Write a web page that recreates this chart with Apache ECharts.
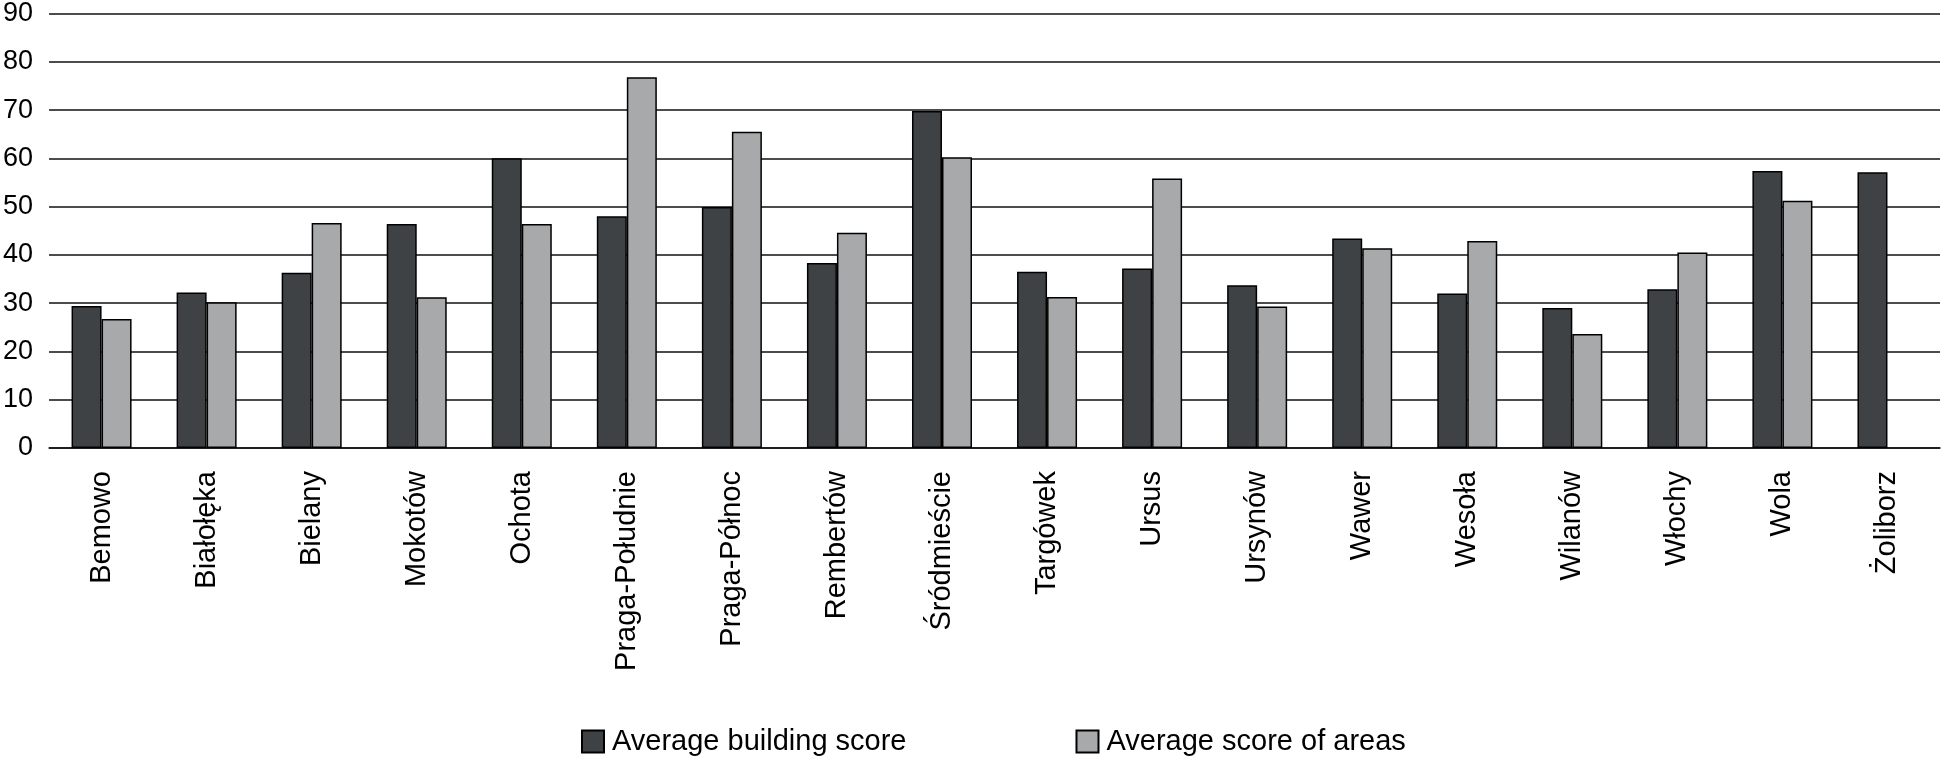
<!DOCTYPE html>
<html>
<head>
<meta charset="utf-8">
<script src="https://cdn.jsdelivr.net/npm/echarts@6/dist/echarts.min.js"></script>
<style>html,body{margin:0;padding:0;background:#fff}#c{width:1941px;height:758px}</style>
</head>
<body>
<div id="c"></div>
<script>
const categories = ['Bemowo','Białołęka','Bielany','Mokotów','Ochota','Praga-Południe','Praga-Północ','Rembertów','Śródmieście','Targówek','Ursus','Ursynów','Wawer','Wesoła','Wilanów','Włochy','Wola','Żoliborz'];
const buildingScore = [29.4, 32.2, 36.3, 46.4, 60.0, 48.0, 49.9, 38.3, 69.8, 36.5, 37.2, 33.7, 43.4, 32.0, 29.0, 32.9, 57.4, 57.1];
const areasScore = [26.7, 30.2, 46.6, 31.2, 46.4, 76.8, 65.5, 44.6, 60.2, 31.3, 55.8, 29.3, 41.4, 42.9, 23.6, 40.5, 51.2, null];
const seriesNames = ['Average building score', 'Average score of areas'];

const font = "'Liberation Sans', Arial, sans-serif";
const chart = echarts.init(document.getElementById('c'), null, {renderer: 'canvas'});
chart.setOption({
  animation: false,
  backgroundColor: '#fff',
  grid: {left: 48, right: 1, top: 11, bottom: 310},
  legend: {
    left: 581, top: 727, padding: 0,
    itemWidth: 22, itemHeight: 22, itemGap: 169,
    icon: 'rect',
    textStyle: {fontFamily: font, fontSize: 29, lineHeight: 22, color: '#000', padding: [0,0,0,3]},
    data: seriesNames
  },
  xAxis: {
    type: 'category',
    data: categories,
    axisTick: {show: false},
    axisLine: {lineStyle: {color: '#111', width: 1.5}},
    axisLabel: {rotate: 90, interval: 0, margin: 23, fontFamily: font, fontSize: 29, color: '#000'}
  },
  yAxis: {
    type: 'value', min: 0, max: 90, interval: 10,
    axisLine: {show: false}, axisTick: {show: false},
    axisLabel: {margin: 16, fontFamily: font, fontSize: 27, color: '#000'},
    splitLine: {lineStyle: {color: '#111', width: 1.5}}
  },
  series: [
    {name: seriesNames[0], type: 'bar', data: buildingScore, barWidth: 30, barGap: '0%',
     itemStyle: {color: '#3f4244', borderColor: '#000', borderWidth: 1.5}},
    {name: seriesNames[1], type: 'bar', data: areasScore, barWidth: 30, barGap: '0%',
     itemStyle: {color: '#a7a9aa', borderColor: '#000', borderWidth: 1.5}}
  ]
});
</script>
</body>
</html>
